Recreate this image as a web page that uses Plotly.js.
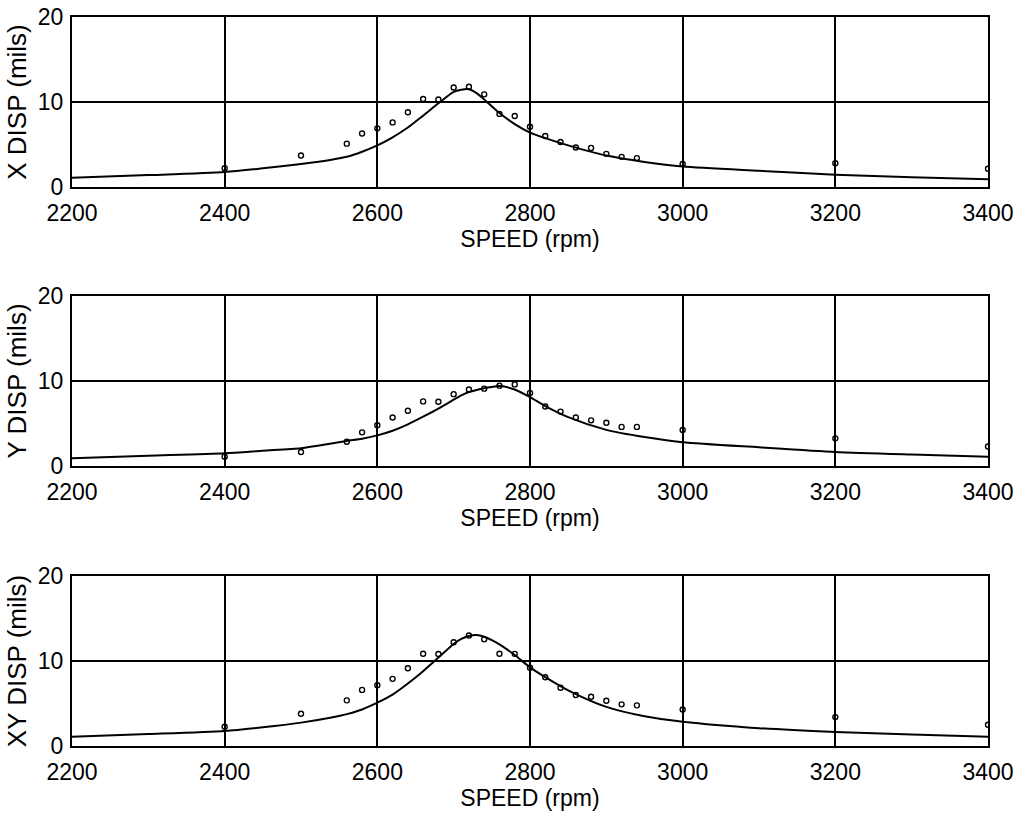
<!DOCTYPE html>
<html>
<head>
<meta charset="utf-8">
<script src="https://cdn.plot.ly/plotly-3.0.1.min.js"></script>
<style>
  html, body { margin: 0; padding: 0; background: #ffffff; }
  #chart { width: 1021px; height: 819px; }
</style>
</head>
<body>
<div id="chart"></div>
<script>
// Measured speeds (rpm)
var speed = [2400, 2500, 2560, 2580, 2600, 2620, 2640, 2660, 2680, 2700, 2720, 2740, 2760, 2780,
             2800, 2820, 2840, 2860, 2880, 2900, 2920, 2940, 3000, 3200, 3400];
// Measured displacements (mils)
var xMeasured  = [2.2, 3.7, 5.1, 6.3, 6.9, 7.6, 8.8, 10.35, 10.3, 11.7, 11.8, 10.9, 8.6, 8.35,
                  7.1, 6.0, 5.3, 4.65, 4.6, 3.9, 3.55, 3.4, 2.7, 2.8, 2.15];
var yMeasured  = [1.1, 1.65, 2.86, 3.96, 4.8, 5.7, 6.5, 7.6, 7.55, 8.45, 9.0, 9.1, 9.45, 9.6,
                  8.6, 7.0, 6.4, 5.7, 5.37, 5.08, 4.6, 4.6, 4.24, 3.25, 2.3];
var xyMeasured = [2.27, 3.8, 5.37, 6.6, 7.14, 7.9, 9.14, 10.86, 10.82, 12.2, 13.0, 12.55, 10.86, 10.84,
                  9.2, 8.08, 6.86, 6.0, 5.8, 5.33, 4.9, 4.78, 4.3, 3.4, 2.5];

// Predicted response curves
var curveSpeed = [2200, 2300, 2400, 2450, 2500, 2540, 2560, 2580, 2600, 2620, 2640, 2660, 2680, 2700,
                  2710, 2720, 2730, 2740, 2750, 2760, 2780, 2800, 2820, 2850, 2900, 2950, 3000, 3100,
                  3200, 3300, 3400];
var xCurve  = [1.1, 1.4, 1.76, 2.2, 2.7, 3.2, 3.55, 4.15, 4.9, 5.85, 7.0, 8.4, 9.85, 11.2,
               11.45, 11.5, 11.05, 10.3, 9.5, 8.7, 7.4, 6.4, 5.75, 4.9, 3.7, 2.95, 2.4, 1.9,
               1.45, 1.15, 0.9];
var yCurve  = [0.9, 1.2, 1.5, 1.8, 2.1, 2.65, 2.95, 3.2, 3.6, 4.15, 4.9, 5.8, 6.75, 7.8,
               8.3, 8.7, 8.95, 9.15, 9.3, 9.4, 9.0, 8.1, 7.05, 5.75, 4.25, 3.4, 2.8, 2.2,
               1.65, 1.35, 1.1];
var xyCurve = [1.1, 1.4, 1.76, 2.2, 2.75, 3.35, 3.75, 4.3, 5.1, 6.05, 7.35, 8.8, 10.4, 12.0,
               12.6, 12.95, 13.05, 12.85, 12.45, 11.95, 10.7, 9.25, 8.1, 6.55, 4.6, 3.5, 2.86, 2.1,
               1.65, 1.35, 1.1];

var xTicks = [2200, 2400, 2600, 2800, 3000, 3200, 3400];
var yTicks = [0, 10, 20];
var panelTitles = ['X DISP (mils)', 'Y DISP (mils)', 'XY DISP (mils)'];
var xLabel = 'SPEED (rpm)';

var measuredSets = [xMeasured, yMeasured, xyMeasured];
var curveSets = [xCurve, yCurve, xyCurve];

var FONT = '"Liberation Sans", Arial, sans-serif';
var traces = [];
for (var i = 0; i < 3; i++) {
  var sfx = i === 0 ? '' : String(i + 1);
  traces.push({
    x: curveSpeed, y: curveSets[i], type: 'scatter', mode: 'lines',
    line: {color: 'black', width: 2, shape: 'spline', smoothing: 0.7},
    xaxis: 'x' + sfx, yaxis: 'y' + sfx, hoverinfo: 'skip'
  });
  traces.push({
    x: speed, y: measuredSets[i], type: 'scatter', mode: 'markers',
    marker: {symbol: 'circle-open', size: 5, color: 'black', line: {width: 1.4, color: 'black'}},
    xaxis: 'x' + sfx, yaxis: 'y' + sfx
  });
}

var domains = [[0.7668, 1], [0.3841, 0.6173], [0, 0.2332]];
var layout = {
  width: 1021, height: 819,
  margin: {l: 72, r: 33, t: 17, b: 73},
  paper_bgcolor: 'white', plot_bgcolor: 'white',
  showlegend: false,
  font: {family: FONT, color: 'black', size: 23}
};
for (var j = 0; j < 3; j++) {
  var s = j === 0 ? '' : String(j + 1);
  layout['xaxis' + s] = {
    anchor: 'y' + s, domain: [0, 1], range: [2200, 3400],
    tickmode: 'array', tickvals: xTicks, ticktext: xTicks.map(String),
    showgrid: true, gridcolor: 'black', gridwidth: 2,
    showline: true, mirror: true, linecolor: 'black', linewidth: 2,
    zeroline: false, ticks: '', ticklabelstandoff: 4,
    tickfont: {family: FONT, size: 23, color: 'black'},
    title: {text: xLabel, font: {family: FONT, size: 23, color: 'black'}, standoff: 6}
  };
  layout['yaxis' + s] = {
    anchor: 'x' + s, domain: domains[j], range: [0, 20],
    tickmode: 'array', tickvals: yTicks, ticktext: yTicks.map(String),
    showgrid: true, gridcolor: 'black', gridwidth: 2,
    showline: true, mirror: true, linecolor: 'black', linewidth: 2,
    zeroline: false, ticks: '', ticklabelstandoff: 2,
    tickfont: {family: FONT, size: 23, color: 'black'},
    title: {text: panelTitles[j], font: {family: FONT, size: 26, color: 'black'}, standoff: 4}
  };
}

Plotly.newPlot('chart', traces, layout, {displayModeBar: false, staticPlot: true});
</script>
</body>
</html>
